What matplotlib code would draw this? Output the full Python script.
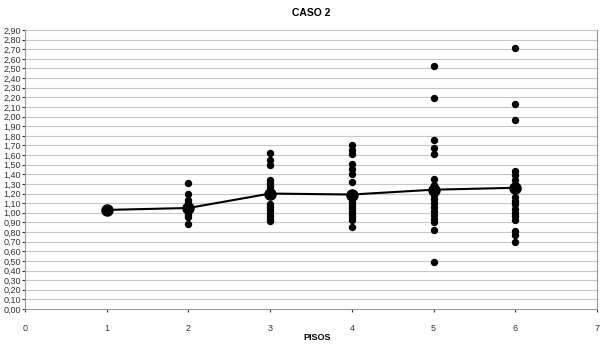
import matplotlib.pyplot as plt
import numpy as np

plt.rcParams['font.family'] = ['Liberation Sans', 'DejaVu Sans']

# average per floor
pisos = [1, 2, 3, 4, 5, 6]
medias = [1.03, 1.05, 1.20, 1.19, 1.24, 1.26]

# individual values per floor
valores = {
    1: [1.03],
    2: [1.31, 1.20, 1.13, 1.10, 1.08, 1.06, 1.04, 1.02, 1.00, 0.98, 0.96, 0.88],
    3: [1.62, 1.55, 1.50, 1.34, 1.31, 1.28, 1.25, 1.23,
        1.09, 1.06, 1.03, 1.00, 0.97, 0.94, 0.91],
    4: [1.70, 1.65, 1.61, 1.51, 1.46, 1.40, 1.32,
        1.11, 1.08, 1.05, 1.02, 0.99, 0.96, 0.93, 0.85],
    5: [2.53, 2.19, 1.76, 1.67, 1.61, 1.35, 1.29,
        1.18, 1.14, 1.10, 1.06, 1.02, 0.98, 0.94, 0.90, 0.82, 0.49],
    6: [2.71, 2.13, 1.96, 1.43, 1.39, 1.34,
        1.16, 1.12, 1.09, 1.04, 1.00, 0.97, 0.92, 0.81, 0.77, 0.70],
}

fig = plt.figure(figsize=(6.0, 3.44), dpi=100)
ax = fig.add_axes([0.0417, 0.1017, 0.9533, 0.8111])

yt = np.round(np.arange(0, 2.91, 0.1), 2)
for v in yt[1:]:
    ax.axhline(v, color='#c8c8c8', lw=0.8, zorder=0)

for p in pisos:
    vals = valores[p]
    ax.plot([p] * len(vals), vals, 'o', color='black', ms=4.3, zorder=2)

ax.plot(pisos, medias, '-o', color='black', lw=1.5, ms=8, zorder=3)

ax.set_xlim(0, 7)
ax.set_ylim(0, 2.9)
ax.set_xticks(range(0, 8))
ax.set_yticks(yt)
ax.set_yticklabels([f'{v:.2f}'.replace('.', ',') for v in yt])
ax.tick_params(axis='y', labelsize=6.5, length=2, pad=1, colors='#333333')
ax.tick_params(axis='x', labelsize=6.5, length=2, pad=9, colors='#333333')
for s in ['left', 'bottom', 'right']:
    ax.spines[s].set_color('#999999')
ax.spines['top'].set_visible(False)

ax.set_title('CASO 2', fontsize=7.5, fontweight='bold', pad=10)
ax.set_xlabel('PISOS', fontsize=6.5, fontweight='bold', labelpad=1)
ax.xaxis.set_label_coords(0.51, -0.085)

fig.savefig('out.png', dpi=100)
